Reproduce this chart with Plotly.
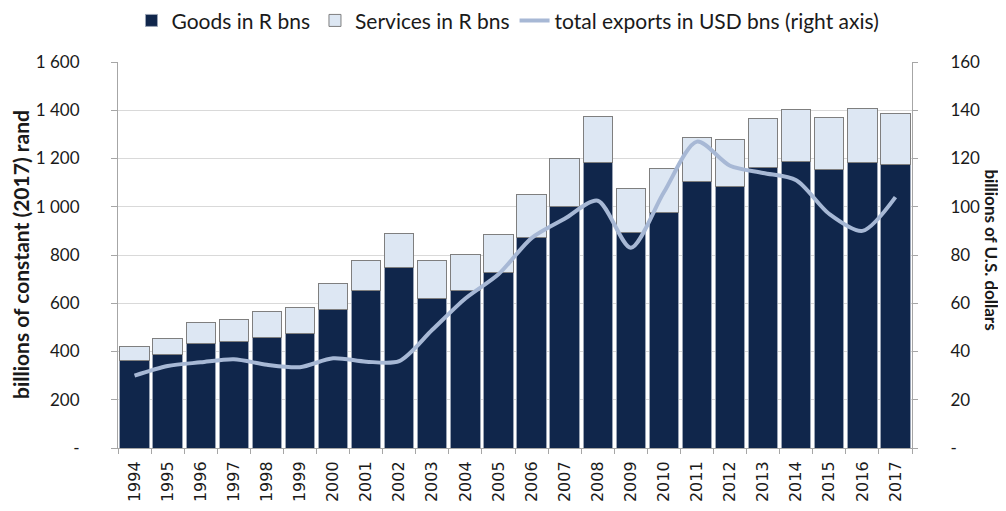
import plotly.graph_objects as go

years = [str(y) for y in range(1994, 2018)]
goods = [361, 386, 434, 440, 459, 476, 574, 652, 748, 621, 651, 726, 872,
         1003, 1182, 895, 975, 1104, 1083, 1163, 1189, 1156, 1185, 1177]
total_rand = [420, 454, 520, 532, 564, 582, 681, 777, 890, 778, 803, 887, 1051,
              1200, 1375, 1076, 1159, 1287, 1279, 1366, 1403, 1370, 1407, 1387]
services = [t - g for t, g in zip(total_rand, goods)]
usd = [30, 34, 35.5, 36.8, 34.5, 33.5, 37.2, 35.8, 36, 49, 62, 72, 87,
       95, 102.5, 83, 106, 127, 117, 114, 111, 97, 90, 104]

left_ticks = [0, 200, 400, 600, 800, 1000, 1200, 1400, 1600]
left_text = ["-", "200", "400", "600", "800", "1 000", "1 200", "1 400", "1 600"]
right_ticks = [0, 20, 40, 60, 80, 100, 120, 140, 160]
right_text = ["-", "20", "40", "60", "80", "100", "120", "140", "160"]

fig = go.Figure()
fig.add_trace(go.Bar(x=years, y=goods, name="Goods in R bns",
                     marker=dict(color="#10264b", line=dict(color="#9aa4b5", width=1))))
fig.add_trace(go.Bar(x=years, y=services, name="Services in R bns",
                     marker=dict(color="#dde7f3", line=dict(color="#7f7f7f", width=1))))
fig.add_trace(go.Scatter(x=years, y=usd, name="total exports in USD bns (right axis)",
                         yaxis="y2", mode="lines",
                         line=dict(color="#a7b8d5", width=4, shape="spline", smoothing=0.8)))

font_main = "Lato, 'Open Sans', sans-serif"
axis_grey = "#a6a6a6"
fig.update_layout(
    width=1006, height=511,
    barmode="stack", bargap=0.114,
    plot_bgcolor="white", paper_bgcolor="white",
    margin=dict(l=110, r=102, t=54, b=71, autoexpand=False),
    font=dict(family=font_main, color="#1a1a1a", size=17),
    legend=dict(orientation="h", x=0.497, xanchor="center", xref="container",
                y=0.975, yanchor="middle", yref="container",
                font=dict(size=21, family=font_main),
                traceorder="normal", tracegroupgap=0),
    showlegend=True,
    xaxis=dict(type="category", tickangle=-90, tickfont=dict(family="DejaVu Sans", size=16),
               showline=True, linecolor=axis_grey, ticks="outside", ticklen=5,
               tickcolor=axis_grey, tickson="boundaries", showgrid=False,
               automargin=False, ticklabelstandoff=6),
    yaxis=dict(range=[0, 1600], tickvals=left_ticks, ticktext=left_text,
               showgrid=True, gridcolor="#d9d9d9", showline=True, linecolor=axis_grey,
               ticks="outside", ticklen=6, tickcolor=axis_grey, zeroline=False,
               automargin=False, ticklabelstandoff=28),
    yaxis2=dict(range=[0, 160], tickvals=right_ticks, ticktext=right_text,
                overlaying="y", side="right", showgrid=False, showline=True,
                linecolor=axis_grey, ticks="outside", ticklen=5, tickcolor=axis_grey,
                zeroline=False, automargin=False, ticklabelstandoff=29),
    annotations=[
        dict(text="<b>billions of constant (2017) rand</b>", textangle=-90,
             xref="paper", yref="paper", x=-0.1234, y=0.50, showarrow=False,
             xanchor="center", yanchor="middle", font=dict(size=21, family=font_main)),
        dict(text="<b>billions of U.S. dollars</b>", textangle=90,
             xref="paper", yref="paper", x=1.099, y=0.513, showarrow=False,
             xanchor="center", yanchor="middle", font=dict(size=17, family=font_main)),
    ],
)
fig.write_html("out.html")
